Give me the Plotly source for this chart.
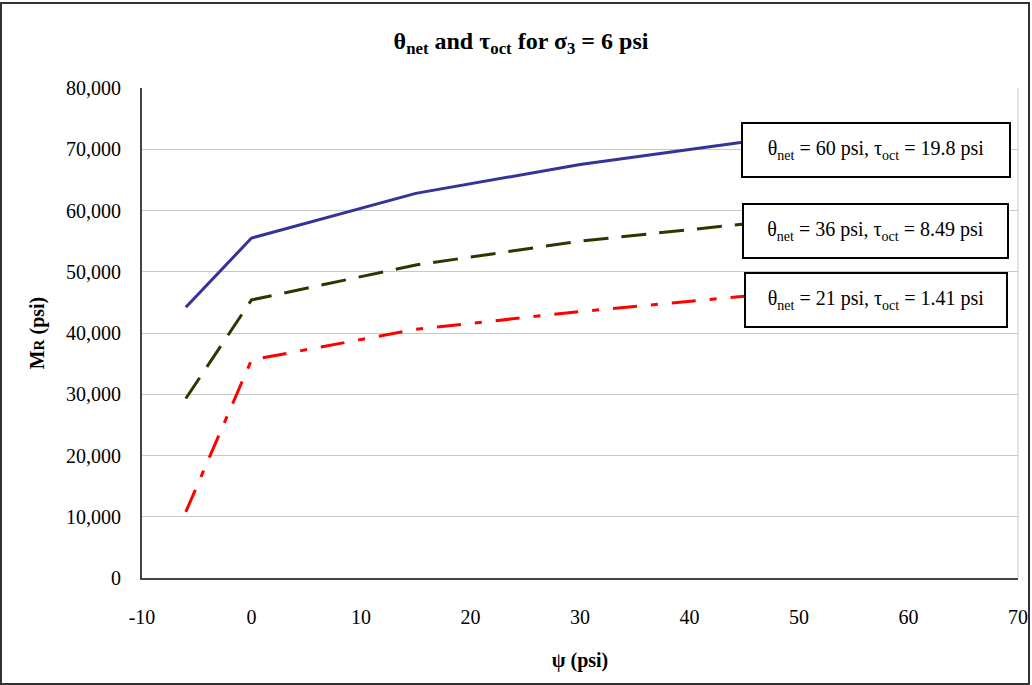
import plotly.graph_objects as go

psi = [-6, 0, 15, 30, 45]
mr_60 = [44200, 55500, 62800, 67500, 71200]
mr_36 = [29300, 45400, 51100, 55000, 57800]
mr_21 = [10800, 35600, 40600, 43500, 46000]

labels = [
    "θ<sub>net</sub> = 60 psi, τ<sub>oct</sub> = 19.8 psi",
    "θ<sub>net</sub> = 36 psi, τ<sub>oct</sub> = 8.49 psi",
    "θ<sub>net</sub> = 21 psi, τ<sub>oct</sub> = 1.41 psi",
]
x_ticks = [-10, 0, 10, 20, 30, 40, 50, 60, 70]
y_ticks = [0, 10000, 20000, 30000, 40000, 50000, 60000, 70000, 80000]

FONT = "Liberation Serif, Times New Roman, serif"

fig = go.Figure()
fig.add_trace(go.Scatter(x=psi, y=mr_60, mode="lines",
                         line=dict(color="#333399", width=3), showlegend=False))
fig.add_trace(go.Scatter(x=psi, y=mr_36, mode="lines",
                         line=dict(color="#333300", width=3, dash="25px,13px"), showlegend=False))
fig.add_trace(go.Scatter(x=psi, y=mr_21, mode="lines",
                         line=dict(color="#FF0000", width=3, dash="24px,14px,7px,14px"), showlegend=False))

L, R, T, B = 142, 14, 88, 107
W, H = 1032, 685
pw, ph = W - L - R, H - T - B

def px(xp):
    return (xp - L) / pw

def py(yp):
    return (H - B - yp) / ph

ann_y = [150, 231, 300]
ann_x = [876, 875, 876]
ann_w = [264, 261, 258]
for lab, xp, yp, w in zip(labels, ann_x, ann_y, ann_w):
    fig.add_annotation(xref="paper", yref="paper", x=px(xp), y=py(yp),
                       text=lab, showarrow=False,
                       font=dict(family=FONT, size=20, color="black"),
                       bgcolor="white", bordercolor="black", borderwidth=2,
                       width=w, height=50, xanchor="center", yanchor="middle")

# outer chart border
fig.add_shape(type="rect", xref="paper", yref="paper",
              x0=px(1), x1=px(1029), y0=py(684), y1=py(3),
              line=dict(color="#333333", width=2), fillcolor="rgba(0,0,0,0)", layer="below")

fig.update_layout(
    width=W, height=H, autosize=False,
    margin=dict(l=L, r=R, t=T, b=B, autoexpand=False),
    paper_bgcolor="white", plot_bgcolor="white",
    font=dict(family=FONT, size=20, color="black"),
    title=dict(text="<b>θ<sub>net</sub> and τ<sub>oct</sub> for σ<sub>3</sub> = 6 psi</b>",
               x=521 / W, xanchor="center", y=1 - 41 / H, yanchor="middle",
               font=dict(family=FONT, size=24, color="black")),
    xaxis=dict(range=[-10, 70], tickvals=x_ticks, ticktext=[str(v) for v in x_ticks],
               showgrid=False, zeroline=False, showline=True, linecolor="#444444", linewidth=2,
               ticks="outside", ticklen=20, tickcolor="rgba(0,0,0,0)", tickfont=dict(size=20),
               title=dict(text="<b>ψ (psi)</b>", font=dict(size=20), standoff=26),
               mirror=False, automargin=False),
    yaxis=dict(range=[0, 80000], tickvals=y_ticks,
               ticktext=[f"{v:,}" for v in y_ticks],
               showgrid=True, gridcolor="#C8C8C8", gridwidth=1, zeroline=False,
               showline=True, linecolor="#444444", linewidth=2,
               ticks="outside", ticklen=15, tickcolor="rgba(0,0,0,0)",
               tickfont=dict(size=20), automargin=False,
               title=dict(text="<b>M<span style='font-size:15px'>R</span> (psi)</b>", font=dict(size=20), standoff=16)),
)
# right plot border (light)
fig.add_shape(type="line", xref="paper", yref="paper", x0=1, x1=1, y0=0, y1=1,
              line=dict(color="#C8C8C8", width=1))

fig.write_html(
    "out.html",
    config={"displayModeBar": False, "responsive": False},
    post_script="document.body.style.margin='0';document.body.style.padding='0';document.body.style.overflow='hidden';document.documentElement.style.overflow='hidden';",
)
